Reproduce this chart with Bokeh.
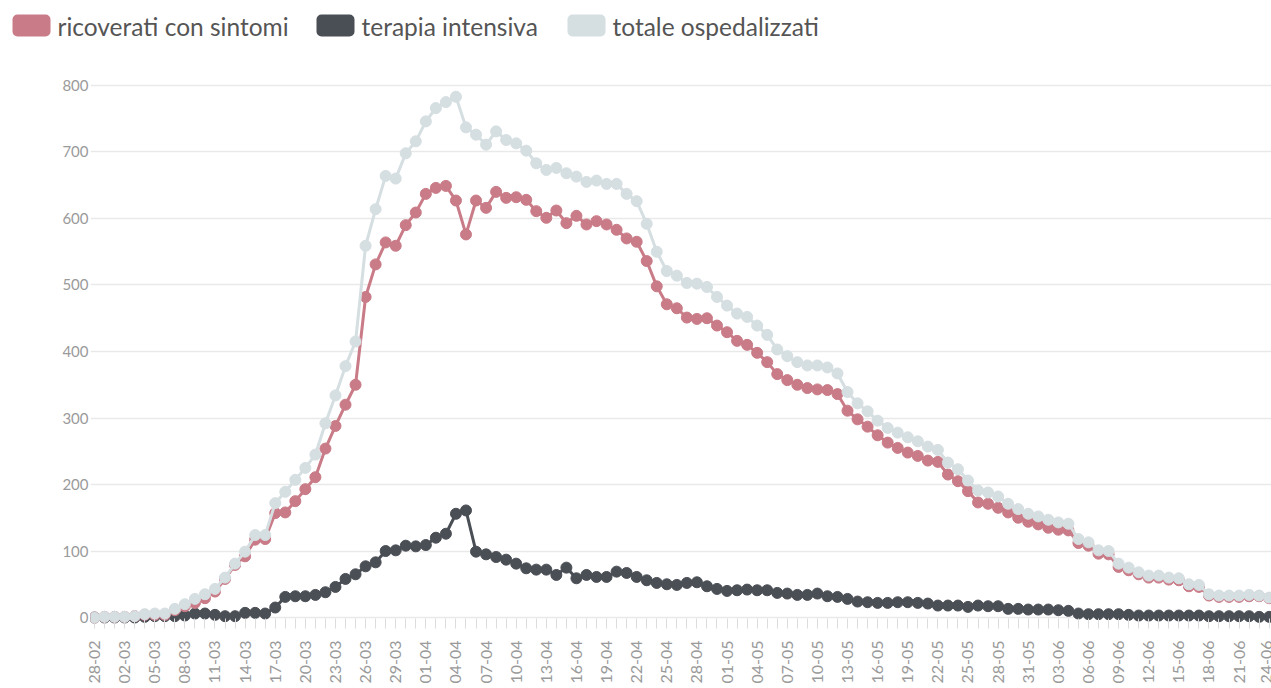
import math
import pandas as pd
from bokeh.plotting import figure
from bokeh.layouts import column
from bokeh.models import Range1d, FixedTicker, BoxAnnotation, ColumnDataSource
from bokeh.core.properties import value
from bokeh.embed import file_html
from bokeh.resources import INLINE

# ---------------- data ----------------
dates = list(pd.date_range("2020-02-28", "2020-06-24").strftime("%d-%m"))

ricoverati = [0, 1, 1, 1, 2, 4, 4, 4, 11, 17,
              22, 29, 39, 58, 79, 92, 117, 118, 157, 158,
              175, 193, 211, 254, 288, 320, 350, 482, 531, 564,
              559, 590, 609, 637, 646, 649, 627, 576, 627, 616,
              640, 631, 632, 628, 611, 601, 612, 593, 604, 591,
              596, 591, 583, 570, 565, 536, 498, 471, 465, 451,
              449, 450, 439, 429, 416, 410, 398, 384, 366, 357,
              350, 345, 343, 342, 336, 311, 298, 287, 274, 263,
              255, 248, 243, 236, 234, 215, 205, 190, 173, 171,
              165, 158, 150, 144, 140, 135, 132, 131, 112, 108,
              96, 95, 76, 71, 65, 60, 60, 57, 56, 47,
              46, 33, 31, 31, 31, 32, 32, 29]

terapia = [0, 0, 0, 0, 0, 1, 2, 2, 2, 3,
           6, 6, 4, 2, 2, 7, 7, 6, 15, 31,
           32, 32, 34, 38, 46, 58, 65, 77, 83, 100,
           101, 108, 107, 109, 120, 126, 156, 161, 99, 95,
           91, 87, 81, 74, 72, 72, 64, 75, 59, 64,
           61, 61, 69, 67, 61, 56, 52, 50, 49, 52,
           53, 47, 43, 40, 41, 42, 41, 41, 37, 36,
           34, 34, 36, 32, 31, 28, 24, 23, 22, 22,
           23, 23, 22, 21, 18, 18, 18, 16, 18, 17,
           17, 13, 13, 12, 12, 12, 11, 10, 6, 5,
           5, 5, 5, 4, 3, 3, 3, 3, 3, 3,
           3, 2, 2, 2, 2, 2, 1, 1]

totale = [0, 1, 1, 1, 2, 5, 6, 6, 13, 20,
          28, 35, 43, 60, 81, 99, 124, 124, 172, 189,
          207, 225, 245, 292, 334, 378, 415, 559, 614, 664,
          660, 698, 716, 746, 766, 775, 783, 737, 726, 711,
          731, 718, 713, 702, 683, 673, 676, 668, 663, 655,
          657, 652, 652, 637, 626, 592, 550, 521, 514, 503,
          502, 497, 482, 469, 457, 452, 439, 425, 403, 393,
          384, 379, 379, 376, 367, 339, 322, 310, 296, 285,
          278, 271, 265, 257, 252, 233, 223, 206, 191, 188,
          182, 171, 163, 156, 152, 147, 143, 141, 118, 113,
          101, 100, 81, 75, 68, 63, 63, 60, 59, 50,
          49, 35, 33, 33, 33, 34, 33, 30]

series_names = ["ricoverati con sintomi", "terapia intensiva", "totale ospedalizzati"]
y_ticks = [0, 100, 200, 300, 400, 500, 600, 700, 800]

# ---------------- styles ----------------
colors = {"ricoverati con sintomi": "#c97b87",
          "terapia intensiva": "#4a4e55",
          "totale ospedalizzati": "#d5dee1"}
FONT = "Lato"
W = 1271
LEG_H = 58
MAIN_H = 630

idx = list(range(len(dates)))

main = figure(width=W, height=MAIN_H,
              x_range=Range1d(-0.4, 117.23), y_range=Range1d(-12, 815),
              output_backend="svg", toolbar_location=None,
              min_border_left=90, min_border_right=0,
              min_border_top=17, min_border_bottom=63)
main.frame_align = False
main.outline_line_color = None
main.background_fill_color = "white"
main.border_fill_color = "white"

main.xgrid.visible = False
main.ygrid.grid_line_color = "#e9e9e9"
main.ygrid.grid_line_width = 1.5

# y axis
main.yaxis.ticker = FixedTicker(ticks=y_ticks)
main.yaxis.axis_line_color = None
main.yaxis.major_tick_line_color = None
main.yaxis.major_tick_out = 0
main.yaxis.major_tick_in = 0
main.yaxis.minor_tick_line_color = None
main.yaxis.major_label_text_color = "#9a9a9a"
main.yaxis.major_label_text_font = FONT
main.yaxis.major_label_text_font_size = "15px"
main.yaxis.major_label_standoff = 2

# x axis
main.xaxis.ticker = FixedTicker(ticks=idx)
main.xaxis.major_label_overrides = {i: (dates[i] if i % 3 == 0 else "") for i in idx}
main.xaxis.major_label_orientation = math.pi / 2
main.xaxis.axis_line_color = None
main.xaxis.major_tick_line_color = "#dddddd"
main.xaxis.major_tick_in = 7
main.xaxis.major_tick_out = 3
main.xaxis.minor_tick_line_color = None
main.xaxis.major_label_text_color = "#9a9a9a"
main.xaxis.major_label_text_font = FONT
main.xaxis.major_label_text_font_size = "16px"
main.xaxis.major_label_standoff = 12

series_values = {"ricoverati con sintomi": ricoverati,
                 "terapia intensiva": terapia,
                 "totale ospedalizzati": totale}

for name in ["terapia intensiva", "ricoverati con sintomi", "totale ospedalizzati"]:
    src = ColumnDataSource(dict(x=idx, y=series_values[name]))
    main.line("x", "y", source=src, line_color=colors[name], line_width=3)
    main.scatter("x", "y", source=src, size=11, fill_color=colors[name],
                 line_color=colors[name])

# ---------------- legend ----------------
leg = figure(width=W, height=LEG_H, x_range=Range1d(0, W), y_range=Range1d(0, LEG_H),
             output_backend="svg", toolbar_location=None, min_border=0,
             x_axis_location=None, y_axis_location=None)
leg.frame_align = False
leg.grid.visible = False
leg.outline_line_color = None

box_lefts = [12, 316, 567]
for name, left in zip(series_names, box_lefts):
    leg.add_layout(BoxAnnotation(left=left, right=left + 38, bottom=22, top=44,
                                 fill_color=colors[name], fill_alpha=1.0,
                                 line_color=None, border_radius=5))
leg.text(x=[l + 45 for l in box_lefts], y=[32] * 3, text=series_names,
         text_font=value(FONT), text_font_size="24.5px", text_color="#555555",
         text_baseline="middle", text_align="left")

layout = column(leg, main, spacing=0)
open("out.html", "w").write(file_html(layout, INLINE))
